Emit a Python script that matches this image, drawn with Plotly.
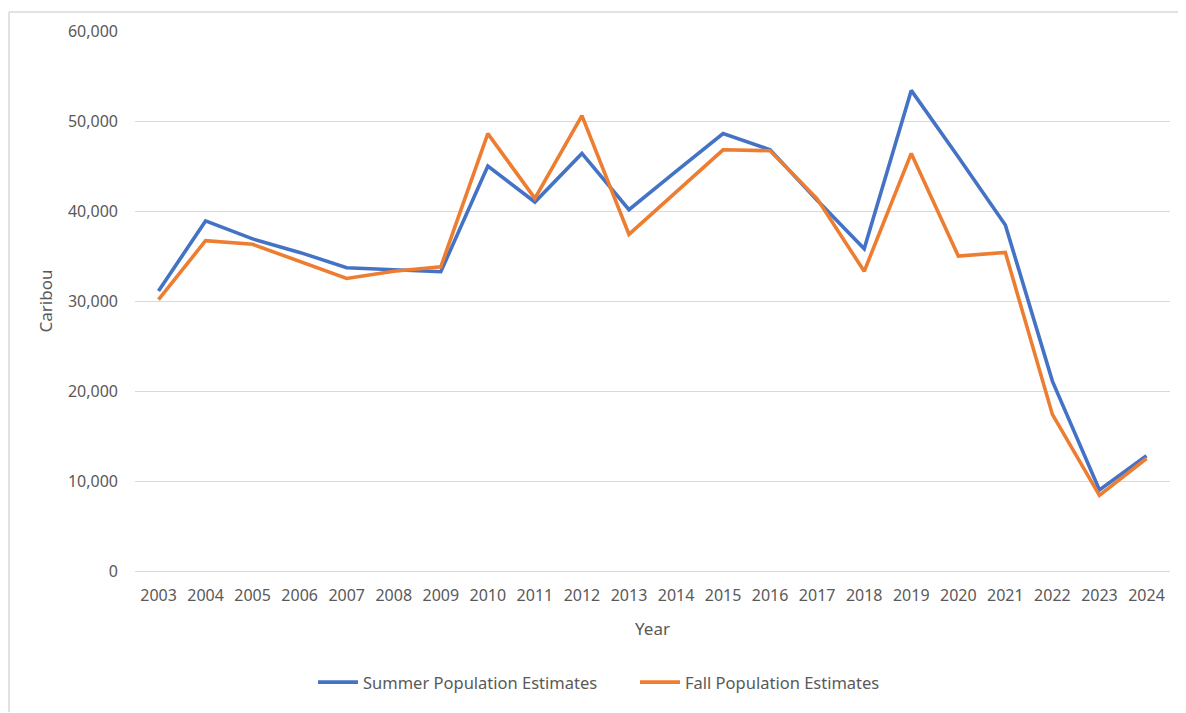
import plotly.graph_objects as go

years = [str(y) for y in range(2003, 2025)]
summer = [31100, 38900, 36900, 35400, 33700, 33500, 33250, 45000, 41000, 46400, 40150, 44400,
          48600, 46800, 41200, 35800, 53400, 46000, 38450, 21100, 9000, 12800]
fall = [30150, 36700, 36300, 34400, 32500, 33300, 33800, 48600, 41400, 50600, 37400, 42100,
        46800, 46700, 41350, 33300, 46400, 35000, 35400, 17400, 8400, 12500]

series_names = ["Summer Population Estimates", "Fall Population Estimates"]
colors = ["#4472C4", "#ED7D31"]

# page body has an 8px default margin, so the figure is sized to fit the window
W, H = 1178, 705
L, R, T, B = 127, 16, 20, 142

fig = go.Figure()
for name, vals, c in zip(series_names, [summer, fall], colors):
    fig.add_trace(go.Scatter(x=years, y=vals, mode="lines", name=name,
                             line=dict(color=c, width=3.6)))

font_family = "Noto Sans, Lato, sans-serif"
gray = "#595959"

pw = W - L - R
ph = H - T - B
# chart frame (top & left edges visible in the reference)
fig.add_shape(type="line", xref="paper", yref="paper",
              x0=(1 - L) / pw, x1=(W - L) / pw, y0=(H - B - 1) / ph, y1=(H - B - 1) / ph,
              line=dict(color="#D9D9D9", width=1.5))
fig.add_shape(type="line", xref="paper", yref="paper",
              x0=(1 - L) / pw, x1=(1 - L) / pw, y0=(H - B - 1) / ph, y1=-B / ph,
              line=dict(color="#D9D9D9", width=1.5))

fig.update_layout(
    width=W, height=H,
    margin=dict(l=L, r=R, t=T, b=B),
    paper_bgcolor="white", plot_bgcolor="white",
    font=dict(family=font_family, size=16, color=gray),
    showlegend=True,
    legend=dict(orientation="h", x=(305 - L) / pw, xanchor="left",
                y=(H - B - 675) / ph, yanchor="middle",
                font=dict(size=16.5, color=gray), itemwidth=40,
                entrywidth=267, entrywidthmode="pixels",
                traceorder="normal"),
    xaxis=dict(type="category", range=[-0.5, 21.5], showgrid=False,
               showline=False, ticks="", ticklabelstandoff=13,
               title=dict(text="Year", font=dict(size=17, color=gray), standoff=18),
               tickfont=dict(size=16, color=gray)),
    yaxis=dict(range=[0, 60000], dtick=10000, tickformat=",", showgrid=True,
               gridcolor="#D9D9D9", gridwidth=1.3, zeroline=True, zerolinecolor="#D9D9D9",
               zerolinewidth=1.3, showline=False, ticks="", ticklabelstandoff=16,
               title=dict(text="Caribou", font=dict(size=17, color=gray), standoff=10),
               tickfont=dict(size=16, color=gray)),
)

fig.write_html("out.html")
